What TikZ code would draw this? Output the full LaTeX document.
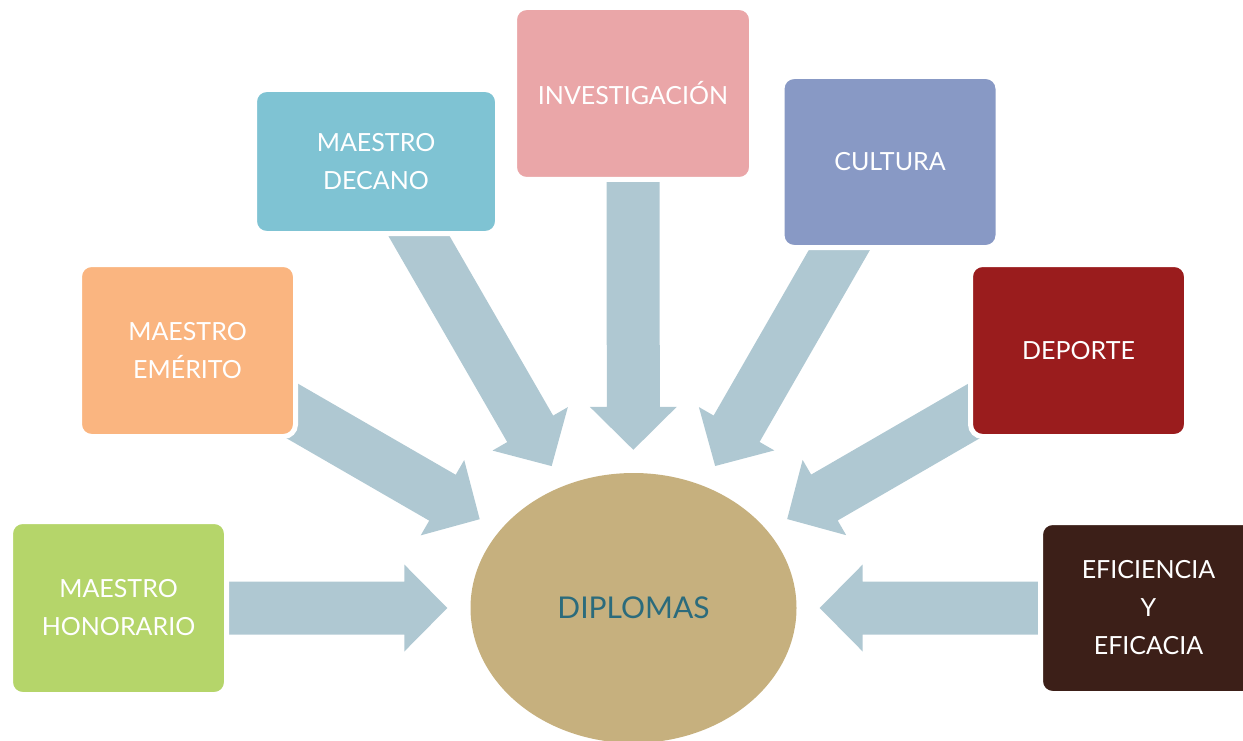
\documentclass[tikz,border=0pt]{standalone}
\usepackage{fontspec}
\setmainfont{Lato}
\usetikzlibrary{calc,shapes.geometric}
\pgfdeclarelayer{bg}
\pgfsetlayers{bg,main}
\definecolor{cgreen}{HTML}{B5D56A}
\definecolor{corange}{HTML}{FAB580}
\definecolor{cteal}{HTML}{7FC3D3}
\definecolor{cpink}{HTML}{EAA6A8}
\definecolor{cpurple}{HTML}{8899C5}
\definecolor{cred}{HTML}{9A1C1D}
\definecolor{cbrown}{HTML}{3C1F18}
\definecolor{carrow}{HTML}{AFC8D2}
\definecolor{cell}{HTML}{C6B07E}
\definecolor{cdip}{HTML}{2B6B7C}
\tikzset{
  box/.style={rounded corners=12pt, draw=white, line width=5pt, inner sep=0pt,
    text=white, align=center, font=\fontsize{25}{38}\selectfont},
  arrowfill/.style={fill=carrow}
}
\newcommand\blockarrow[1]{%
  \path (#1.center) -- (dip) coordinate[pos=1] (e-#1);
  \coordinate (t-#1) at ($(e-#1)!23pt!(#1.center)$);
  \coordinate (h-#1) at ($(t-#1)!43pt!(#1.center)$);
  \fill[arrowfill] ($(#1.center)!26.5pt!90:(t-#1)$) -- ($(h-#1)!26.5pt!90:(t-#1)$)
    -- ($(h-#1)!43.5pt!90:(t-#1)$) -- (t-#1) -- ($(h-#1)!43.5pt!-90:(t-#1)$)
    -- ($(h-#1)!26.5pt!-90:(t-#1)$) -- ($(#1.center)!26.5pt!-90:(t-#1)$) -- cycle;}
\begin{document}
\begin{tikzpicture}[x=1pt,y=-1pt]
\useasboundingbox (0,0) rectangle (1243,741);
\node[ellipse, fill=cell, minimum width=326pt, minimum height=270pt, inner sep=0pt,
  text=cdip, font=\fontsize{30}{36}\selectfont] (dip) at (633.5,608) {DIPLOMAS};
\node[box, fill=cgreen, minimum width=216pt, minimum height=173pt] (hon) at (118.5,608) {MAESTRO\\HONORARIO};
\node[box, fill=corange, minimum width=216pt, minimum height=172pt] (eme) at (187.5,350.5) {MAESTRO\\EMÉRITO};
\node[box, fill=cteal, minimum width=243pt, minimum height=144pt] (dec) at (376,161.5) {MAESTRO\\DECANO};
\node[box, fill=cpink, minimum width=237pt, minimum height=172pt] (inv) at (633,93.5) {INVESTIGACIÓN};
\node[box, fill=cpurple, minimum width=216pt, minimum height=171pt] (cul) at (890,162) {CULTURA};
\node[box, fill=cred, minimum width=216pt, minimum height=172pt] (dep) at (1078.5,350.5) {DEPORTE};
\node[box, fill=cbrown, minimum width=216pt, minimum height=171pt] (efi) at (1148.5,608) {EFICIENCIA\\Y\\EFICACIA};
\begin{pgfonlayer}{bg}
\blockarrow{hon}
\blockarrow{eme}
\blockarrow{dec}
\blockarrow{inv}
\blockarrow{cul}
\blockarrow{dep}
\blockarrow{efi}
\end{pgfonlayer}
\end{tikzpicture}
\end{document}
